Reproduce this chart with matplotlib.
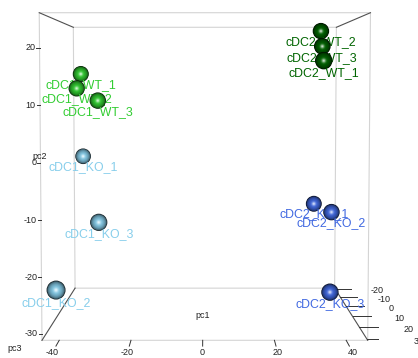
import matplotlib
matplotlib.use('Agg')
import matplotlib.pyplot as plt
import numpy as np
from matplotlib.colors import to_rgb

# PCA scores of the 12 samples
samples = ['cDC1_WT_1', 'cDC1_WT_2', 'cDC1_WT_3',
           'cDC1_KO_1', 'cDC1_KO_2', 'cDC1_KO_3',
           'cDC2_WT_1', 'cDC2_WT_2', 'cDC2_WT_3',
           'cDC2_KO_1', 'cDC2_KO_2', 'cDC2_KO_3']
pc1 = [-40.8, -41.5, -34.3, -41.2, -41.8, -32.6, 37.0, 38.3, 38.3, 37.5, 42.1, 39.7]
pc2 = [15.8, 12.8, 10.3, -1.9, -23.2, -13.5, 18.2, 24.5, 21.3, -11.8, -12.7, -27.2]
pc3 = [-12.0, -8.0, -6.0, -18.0, 26.0, 5.0, 8.0, -6.0, -3.0, -14.0, -6.0, 6.0]

group_colors = {'cDC1_WT': 'limegreen', 'cDC2_WT': 'darkgreen',
                'cDC1_KO': 'skyblue', 'cDC2_KO': 'royalblue'}

pc1_ticks = [-40, -20, 0, 20, 40]
pc2_ticks = [-30, -20, -10, 0, 10, 20]
pc3_ticks = [-20, -10, 0, 10, 20, 30]

pc1_lim = (-44.8, 46.0)
pc2_lim = (-31.2, 26.0)
pc3_lim = (-21.0, 31.0)

cam = 4.38  # eye distance in box lengths, used to shrink far spheres


def depth_scale(z):
    t = (z - pc3_lim[0]) / (pc3_lim[1] - pc3_lim[0])
    return (cam - 0.5) / (cam + 0.5 - t)


plt.rcParams['font.family'] = ['Liberation Sans', 'DejaVu Sans']

fig = plt.figure(figsize=(4.18, 3.58), dpi=100)
ax = fig.add_axes([-0.0215, 0.0196, 1, 1], projection='3d', computed_zorder=False)
ax.set_proj_type('persp', focal_length=0.659)
ax.view_init(elev=3.75, azim=-90)
ax.set_box_aspect((1, 1, 1), zoom=1.367)
ax.set_axis_off()

x0, x1 = pc1_lim
z0, z1 = pc2_lim
far, near = pc3_lim

# bounding box: pale front/back faces, dark edges running in depth
for y in (near, far):
    ax.plot([x0, x1, x1, x0, x0], [y] * 5, [z0, z0, z1, z1, z0],
            color='#d4d4d4', lw=0.8, zorder=0)
for x in (x0, x1):
    for z in (z0, z1):
        ax.plot([x, x], [near, far], [z, z], color='#505050', lw=0.8, zorder=1)

tick_kw = dict(color='#333333', lw=0.7, zorder=1)
lab_kw = dict(fontsize=6.5, color='#222222', va='center')
for t in pc1_ticks:
    ax.plot([t, t], [near, near + 4.5], [z0, z0], **tick_kw)
    ax.text(t, near + 9, z0, str(t), ha='center', **lab_kw)
for t in pc2_ticks:
    ax.plot([x0, x0 - 0.9], [near, near], [t, t], **tick_kw)
    ax.text(x0 - 1.2, near, t, str(t), ha='right', **lab_kw)
for t in pc3_ticks:
    ax.plot([x1, x1 + 5.6], [t, t], [z0, z0], **tick_kw)
    ax.text(x1 + 14.5, t, z0 - 0.4, str(t), ha='center', **lab_kw)

ax.text(0, 9.4, z0, 'pc1', ha='center', **lab_kw)
ax.text(x0 - 0.3, near, 1.2, 'pc2', ha='center', **lab_kw)
ax.text(-52.4, near, -32.6, 'pc3', ha='center', **lab_kw)

# shaded spheres, far ones first so near ones cover them
radii = np.linspace(1.0, 0.08, 14)
order = np.argsort(pc3)
for rank, i in enumerate(order):
    name = samples[i]
    base = np.array(to_rgb(group_colors[name[:7]]))
    diam = 14.0 * depth_scale(pc3[i])
    zo = 10 + 3 * rank
    for r in radii:
        cosang = np.sqrt(1 - min(r, 0.999) ** 2)
        col = base * (0.12 + 0.88 * cosang)
        spec = cosang ** 30
        col = col + (1 - col) * spec * 0.85
        ax.scatter([pc1[i]], [pc3[i]], [pc2[i]], s=(diam * r) ** 2,
                   color=np.clip(col, 0, 1), edgecolors='none',
                   depthshade=False, zorder=zo)
    ax.text(pc1[i], pc3[i], pc2[i] - 2.3, name, color=group_colors[name[:7]],
            fontsize=8.9, ha='center', va='center', zorder=zo + 1)

ax.set_xlim(pc1_lim)
ax.set_ylim(near, far)
ax.set_zlim(pc2_lim)

fig.savefig('out.png', dpi=100)
